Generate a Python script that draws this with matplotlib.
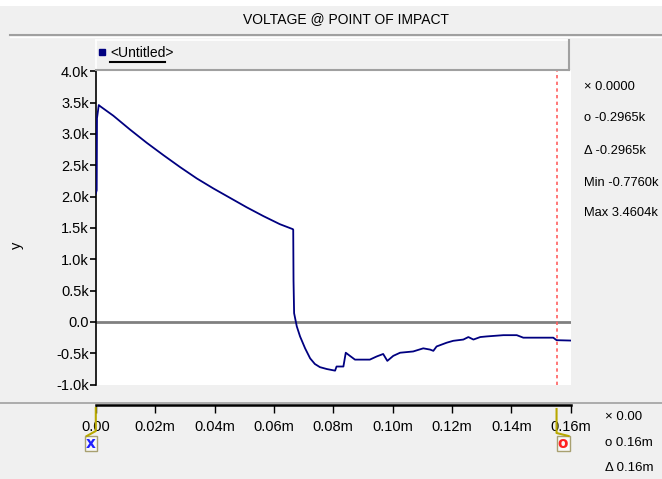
import matplotlib
matplotlib.use('Agg')
import matplotlib.pyplot as plt
from matplotlib.lines import Line2D
from matplotlib.patches import Rectangle

plt.rcParams['font.family'] = ['Liberation Sans', 'DejaVu Sans']

# trace (x in m-units of the axis, y in volts)
t = [0.0000, 0.0003, 0.0004, 0.0010, 0.0015, 0.0059, 0.0115, 0.0171, 0.0228, 0.0284,
     0.0340, 0.0396, 0.0452, 0.0508, 0.0564, 0.0620, 0.0664, 0.0665, 0.0666, 0.0668,
     0.0677, 0.0688, 0.0705, 0.0722, 0.0738, 0.0755, 0.0778, 0.0806, 0.0811, 0.0834,
     0.0842, 0.0856, 0.0873, 0.0923, 0.0946, 0.0968, 0.0982, 0.1002, 0.1025, 0.1069,
     0.1103, 0.1126, 0.1137, 0.1148, 0.1182, 0.1204, 0.1238, 0.1255, 0.1272, 0.1295,
     0.1317, 0.1373, 0.1418, 0.1440, 0.1541, 0.1552, 0.1600]
v = [2050, 2100, 3250, 3460, 3440, 3290, 3070, 2860, 2660, 2470,
     2290, 2130, 1980, 1830, 1690, 1560, 1480, 1470, 660, 140,
     -70, -230, -420, -580, -670, -720, -750, -776, -710, -710,
     -490, -540, -600, -600, -550, -510, -620, -540, -490, -470,
     -420, -440, -460, -390, -330, -300, -280, -240, -280, -240,
     -230, -210, -210, -250, -250, -290, -296]

yticks = [-1000, -500, 0, 500, 1000, 1500, 2000, 2500, 3000, 3500, 4000]
ylabels = ['-1.0k', '-0.5k', '0.0', '0.5k', '1.0k', '1.5k', '2.0k', '2.5k', '3.0k', '3.5k', '4.0k']
xticks = [0.00, 0.02, 0.04, 0.06, 0.08, 0.10, 0.12, 0.14, 0.16]
xlabels = ['0.00', '0.02m', '0.04m', '0.06m', '0.08m', '0.10m', '0.12m', '0.14m', '0.16m']

cursor_x = 0.0
cursor_o = 0.1552
readout_top = ['\u00d7 0.0000', 'o -0.2965k', '\u0394 -0.2965k', 'Min -0.7760k', 'Max 3.4604k']
readout_bot = ['\u00d7 0.00', 'o 0.16m', '\u0394 0.16m']

W, H = 662, 479
BG = '#f0f0f0'
FS = 10.5
fig = plt.figure(figsize=(W / 100, H / 100), dpi=100, facecolor=BG)


def fx(x):
    return x / W


def fy(y):
    return 1 - y / H


def hline(x0, x1, y, **kw):
    fig.add_artist(Line2D([fx(x0), fx(x1)], [fy(y), fy(y)], transform=fig.transFigure, **kw))


def vline(x, y0, y1, **kw):
    fig.add_artist(Line2D([fx(x), fx(x)], [fy(y0), fy(y1)], transform=fig.transFigure, **kw))


# plot area
L, R, T, B = 95.8, 570.8, 70, 384.7
ax = fig.add_axes([fx(L), fy(B), fx(R) - fx(L), fy(T) - fy(B)])
ax.set_facecolor('white')
ax.set_xlim(0, 0.16)
ax.set_ylim(-1000, 4019)
for s in ['top', 'right', 'bottom']:
    ax.spines[s].set_visible(False)
ax.spines['left'].set_color('black')
ax.spines['left'].set_linewidth(1.2)
ax.set_xticks([])
ax.set_yticks(yticks)
ax.set_yticklabels(ylabels)
ax.tick_params(axis='y', direction='out', length=4, width=1.2, pad=1, labelsize=FS)
ax.axhline(0, color='#808080', lw=2, zorder=1)
ax.axvline(cursor_o, color='#ff6060', lw=1.2, ls=(0, (2, 2)), zorder=2)
ax.plot(t, v, color='#000080', lw=1.3, zorder=3)

fig.text(fx(17), fy(245), 'y', rotation=90, ha='center', va='center', fontsize=FS)

# x axis strip
ax2 = fig.add_axes([fx(L), fy(405), fx(R) - fx(L), 0.0001])
ax2.set_facecolor('none')
ax2.set_xlim(0, 0.16)
ax2.set_yticks([])
for s in ['top', 'right', 'left']:
    ax2.spines[s].set_visible(False)
ax2.spines['bottom'].set_linewidth(1.8)
ax2.set_xticks(xticks)
ax2.set_xticklabels(xlabels)
ax2.tick_params(axis='x', direction='out', length=6, width=1, pad=5, labelsize=FS)
hline(0, W, 402.5, color='#a0a0a0', lw=1.2)

# top bar
fig.add_artist(Rectangle((0, fy(6)), 1, 1 - fy(6), transform=fig.transFigure,
                         facecolor='white', edgecolor='none'))
fig.text(fx(346), fy(19), 'VOLTAGE @ POINT OF IMPACT', ha='center', va='center', fontsize=10)
hline(10, W, 35, color='#a0a0a0', lw=1.5)
hline(10, W, 37, color='white', lw=1)

# legend strip
hline(96, 569, 39.5, color='white', lw=1.2)
vline(96, 39.5, 69.5, color='white', lw=1.2)
hline(96, 569, 69.5, color='#a0a0a0', lw=1.5)
vline(569, 39.5, 69.5, color='#a0a0a0', lw=1.5)
fig.add_artist(Line2D([fx(102.5)], [fy(52)], transform=fig.transFigure, marker='s',
                      markersize=4.5, color='#000080', ls='none'))
fig.text(fx(110), fy(53), '<Untitled>', ha='left', va='center', fontsize=10)
hline(110, 165, 62, color='black', lw=1.5)

# readouts
for i, s in enumerate(readout_top):
    fig.text(fx(584), fy([87, 118, 151, 183, 213][i]), s, ha='left', va='center', fontsize=9.3)
for i, s in enumerate(readout_bot):
    fig.text(fx(605), fy([417, 443, 468][i]), s, ha='left', va='center', fontsize=9.5)

# cursor flags under the x axis
xc = L + cursor_x / 0.16 * (R - L)
fig.add_artist(Line2D([fx(xc), fx(xc), fx(xc - 9)], [fy(408), fy(431), fy(436)],
                      transform=fig.transFigure, color='#b8a800', lw=1.5))
fig.add_artist(Rectangle((fx(xc - 11), fy(451)), fx(12), fy(436) - fy(451), transform=fig.transFigure,
                         facecolor='#f8f8f8', edgecolor='#a8a070', lw=1))
fig.text(fx(xc - 5), fy(443.5), 'x', color='#2020ff', ha='center', va='center',
         fontsize=11, fontweight='bold', family='DejaVu Sans')

xo = L + cursor_o / 0.16 * (R - L)
fig.add_artist(Line2D([fx(xo), fx(xo), fx(xo + 12)], [fy(409), fy(433), fy(436)],
                      transform=fig.transFigure, color='#b8a800', lw=1.5))
fig.add_artist(Rectangle((fx(xo), fy(451)), fx(13), fy(436) - fy(451), transform=fig.transFigure,
                         facecolor='#f8f8f8', edgecolor='#a8a070', lw=1))
fig.text(fx(xo + 6.5), fy(444), 'o', color='#ff2020', ha='center', va='center',
         fontsize=11, fontweight='bold', family='DejaVu Sans')

fig.savefig('out.png', dpi=100, facecolor=BG)
